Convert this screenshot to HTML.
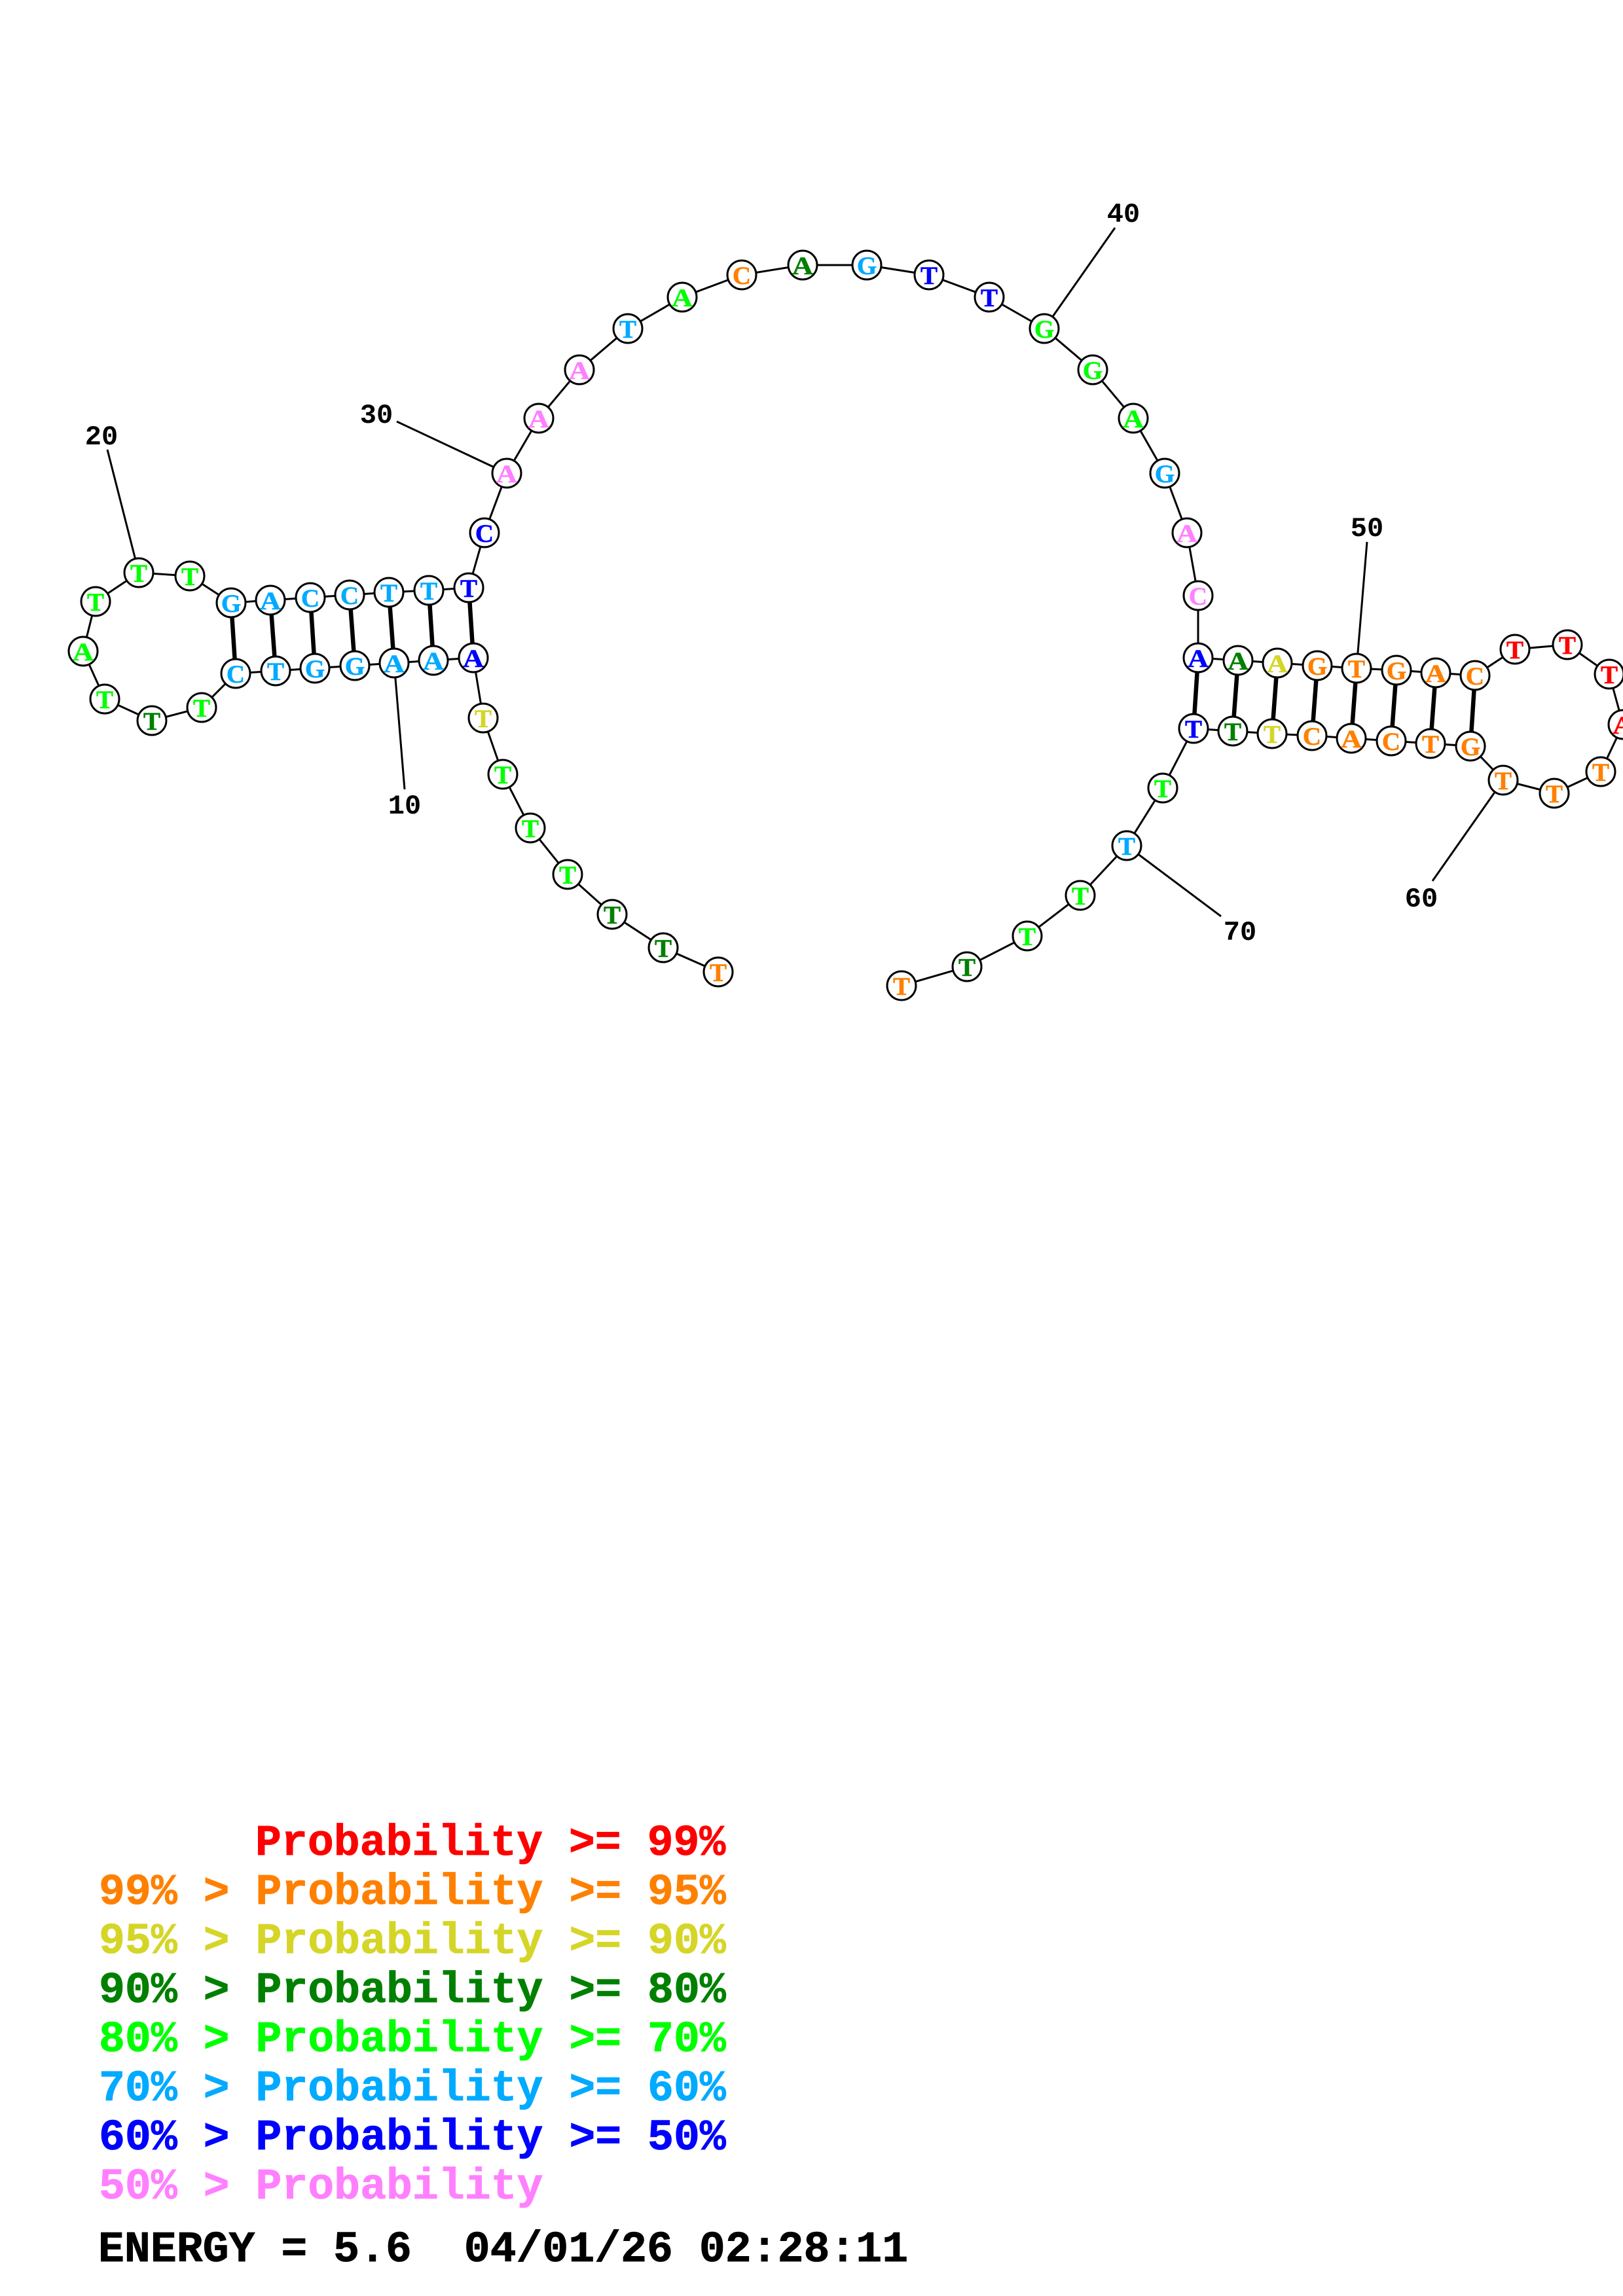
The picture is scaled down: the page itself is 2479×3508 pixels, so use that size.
<!DOCTYPE html>
<html><head><meta charset="utf-8"><style>
html,body{margin:0;padding:0;background:#fff}
svg{display:block}
text{font-family:"Liberation Mono",monospace;font-weight:bold;white-space:pre}
.n text{font-family:"Liberation Serif",serif;font-size:39px;text-anchor:middle;stroke-width:.6}
.n text.w{font-family:"Liberation Serif",serif}
.l{font-size:42px;text-anchor:middle;fill:#000}
.g{font-size:66.5px;stroke-width:.8}
.r{fill:#f00;stroke:#f00}.o{fill:#ff8000;stroke:#ff8000}.y{fill:#d5d528;stroke:#d5d528}.d{fill:#008000;stroke:#008000}.e{fill:#0f0;stroke:#0f0}.c{fill:#00aaff;stroke:#00aaff}.b{fill:#00f;stroke:#00f}.p{fill:#ff80ff;stroke:#ff80ff}
</style></head><body>
<svg xmlns="http://www.w3.org/2000/svg" width="2479" height="3508" viewBox="0 0 2479 3508">
<rect width="2479" height="3508" fill="#fff"/>
<polyline fill="none" stroke="#000" stroke-width="3" points="1097,1485 1013,1448 935,1397 867,1336 810,1265 768,1183 738,1097 723,1005 662,1009 602,1013 542,1017 481,1021 421,1025 360,1029 308,1081 232,1101 160,1068 127,995 146,919 212,875 290,880 353,921 413,917 474,913 534,909 594,905 655,902 716,898 740,814 774,723 823,639 885,565 959,502 1042,454 1133,420 1226,405 1324,405 1419,420 1511,454 1595,502 1669,565 1731,639 1779,723 1813,814 1830,910 1830,1005 1891,1009 1951,1013 2012,1017 2072,1021 2133,1024 2193,1028 2253,1032 2314,992 2394,985 2458,1030 2479,1107 2445,1179 2374,1212 2296,1192 2246,1140 2185,1136 2125,1132 2064,1128 2004,1124 1943,1121 1883,1117 1823,1113 1776,1204 1721,1292 1650,1368 1569,1430 1477,1477 1377,1506"/>
<g stroke="#000" stroke-width="3">
<line x1="602" y1="1013" x2="618" y2="1206"/>
<line x1="212" y1="875" x2="164" y2="687"/>
<line x1="774" y1="723" x2="606" y2="644"/>
<line x1="1595" y1="502" x2="1703" y2="348"/>
<line x1="2072" y1="1021" x2="2088" y2="828"/>
<line x1="2296" y1="1192" x2="2188" y2="1346"/>
<line x1="1721" y1="1292" x2="1865" y2="1400"/>
</g>
<g stroke="#000" stroke-width="6.5">
<line x1="723" y1="1005" x2="716" y2="898"/><line x1="662" y1="1009" x2="655" y2="902"/><line x1="602" y1="1013" x2="594" y2="905"/><line x1="542" y1="1017" x2="534" y2="909"/><line x1="481" y1="1021" x2="474" y2="913"/><line x1="421" y1="1025" x2="413" y2="917"/><line x1="360" y1="1029" x2="353" y2="921"/>
<line x1="1830" y1="1005" x2="1823" y2="1113"/><line x1="1891" y1="1009" x2="1883" y2="1117"/><line x1="1951" y1="1013" x2="1943" y2="1121"/><line x1="2012" y1="1017" x2="2004" y2="1124"/><line x1="2072" y1="1021" x2="2064" y2="1128"/><line x1="2133" y1="1024" x2="2125" y2="1132"/><line x1="2193" y1="1028" x2="2185" y2="1136"/><line x1="2253" y1="1032" x2="2246" y2="1140"/>
</g>
<g fill="#fff" stroke="#000" stroke-width="3">
<circle cx="1097" cy="1485" r="22"/><circle cx="1013" cy="1448" r="22"/><circle cx="935" cy="1397" r="22"/><circle cx="867" cy="1336" r="22"/><circle cx="810" cy="1265" r="22"/><circle cx="768" cy="1183" r="22"/><circle cx="738" cy="1097" r="22"/><circle cx="723" cy="1005" r="22"/><circle cx="662" cy="1009" r="22"/><circle cx="602" cy="1013" r="22"/><circle cx="542" cy="1017" r="22"/><circle cx="481" cy="1021" r="22"/><circle cx="421" cy="1025" r="22"/><circle cx="360" cy="1029" r="22"/><circle cx="308" cy="1081" r="22"/><circle cx="232" cy="1101" r="22"/><circle cx="160" cy="1068" r="22"/><circle cx="127" cy="995" r="22"/><circle cx="146" cy="919" r="22"/><circle cx="212" cy="875" r="22"/><circle cx="290" cy="880" r="22"/><circle cx="353" cy="921" r="22"/><circle cx="413" cy="917" r="22"/><circle cx="474" cy="913" r="22"/><circle cx="534" cy="909" r="22"/><circle cx="594" cy="905" r="22"/><circle cx="655" cy="902" r="22"/><circle cx="716" cy="898" r="22"/><circle cx="740" cy="814" r="22"/><circle cx="774" cy="723" r="22"/><circle cx="823" cy="639" r="22"/><circle cx="885" cy="565" r="22"/><circle cx="959" cy="502" r="22"/><circle cx="1042" cy="454" r="22"/><circle cx="1133" cy="420" r="22"/><circle cx="1226" cy="405" r="22"/><circle cx="1324" cy="405" r="22"/><circle cx="1419" cy="420" r="22"/><circle cx="1511" cy="454" r="22"/><circle cx="1595" cy="502" r="22"/><circle cx="1669" cy="565" r="22"/><circle cx="1731" cy="639" r="22"/><circle cx="1779" cy="723" r="22"/><circle cx="1813" cy="814" r="22"/><circle cx="1830" cy="910" r="22"/><circle cx="1830" cy="1005" r="22"/><circle cx="1891" cy="1009" r="22"/><circle cx="1951" cy="1013" r="22"/><circle cx="2012" cy="1017" r="22"/><circle cx="2072" cy="1021" r="22"/><circle cx="2133" cy="1024" r="22"/><circle cx="2193" cy="1028" r="22"/><circle cx="2253" cy="1032" r="22"/><circle cx="2314" cy="992" r="22"/><circle cx="2394" cy="985" r="22"/><circle cx="2458" cy="1030" r="22"/><circle cx="2479" cy="1107" r="22"/><circle cx="2445" cy="1179" r="22"/><circle cx="2374" cy="1212" r="22"/><circle cx="2296" cy="1192" r="22"/><circle cx="2246" cy="1140" r="22"/><circle cx="2185" cy="1136" r="22"/><circle cx="2125" cy="1132" r="22"/><circle cx="2064" cy="1128" r="22"/><circle cx="2004" cy="1124" r="22"/><circle cx="1943" cy="1121" r="22"/><circle cx="1883" cy="1117" r="22"/><circle cx="1823" cy="1113" r="22"/><circle cx="1776" cy="1204" r="22"/><circle cx="1721" cy="1292" r="22"/><circle cx="1650" cy="1368" r="22"/><circle cx="1569" cy="1430" r="22"/><circle cx="1477" cy="1477" r="22"/><circle cx="1377" cy="1506" r="22"/>
</g>
<g class="n">
<text x="1097" y="1499" class="o">T</text><text x="1013" y="1462" class="d">T</text><text x="935" y="1411" class="d">T</text><text x="867" y="1350" class="e">T</text><text x="810" y="1279" class="e">T</text><text x="768" y="1197" class="e">T</text><text x="738" y="1111" class="y">T</text><text x="723" y="1019" class="b" textLength="32" lengthAdjust="spacingAndGlyphs">A</text><text x="662" y="1023" class="c" textLength="32" lengthAdjust="spacingAndGlyphs">A</text><text x="602" y="1027" class="c" textLength="32" lengthAdjust="spacingAndGlyphs">A</text><text x="542" y="1031" class="c">G</text><text x="481" y="1035" class="c">G</text><text x="421" y="1039" class="c">T</text><text x="360" y="1043" class="c">C</text><text x="308" y="1095" class="e">T</text><text x="232" y="1115" class="d">T</text><text x="160" y="1082" class="e">T</text><text x="127" y="1009" class="e" textLength="32" lengthAdjust="spacingAndGlyphs">A</text><text x="146" y="933" class="e">T</text><text x="212" y="889" class="e">T</text><text x="290" y="894" class="e">T</text><text x="353" y="935" class="c">G</text><text x="413" y="931" class="c" textLength="32" lengthAdjust="spacingAndGlyphs">A</text><text x="474" y="927" class="c">C</text><text x="534" y="923" class="c">C</text><text x="594" y="919" class="c">T</text><text x="655" y="916" class="c">T</text><text x="716" y="912" class="b">T</text><text x="740" y="828" class="b">C</text><text x="774" y="737" class="p" textLength="32" lengthAdjust="spacingAndGlyphs">A</text><text x="823" y="653" class="p" textLength="32" lengthAdjust="spacingAndGlyphs">A</text><text x="885" y="579" class="p" textLength="32" lengthAdjust="spacingAndGlyphs">A</text><text x="959" y="516" class="c">T</text><text x="1042" y="468" class="e" textLength="32" lengthAdjust="spacingAndGlyphs">A</text><text x="1133" y="434" class="o">C</text><text x="1226" y="419" class="d" textLength="32" lengthAdjust="spacingAndGlyphs">A</text><text x="1324" y="419" class="c">G</text><text x="1419" y="434" class="b">T</text><text x="1511" y="468" class="b">T</text><text x="1595" y="516" class="e">G</text><text x="1669" y="579" class="e">G</text><text x="1731" y="653" class="e" textLength="32" lengthAdjust="spacingAndGlyphs">A</text><text x="1779" y="737" class="c">G</text><text x="1813" y="828" class="p" textLength="32" lengthAdjust="spacingAndGlyphs">A</text><text x="1830" y="924" class="p">C</text><text x="1830" y="1019" class="b" textLength="32" lengthAdjust="spacingAndGlyphs">A</text><text x="1891" y="1023" class="d" textLength="32" lengthAdjust="spacingAndGlyphs">A</text><text x="1951" y="1027" class="y" textLength="32" lengthAdjust="spacingAndGlyphs">A</text><text x="2012" y="1031" class="o">G</text><text x="2072" y="1035" class="o">T</text><text x="2133" y="1038" class="o">G</text><text x="2193" y="1042" class="o" textLength="32" lengthAdjust="spacingAndGlyphs">A</text><text x="2253" y="1046" class="o">C</text><text x="2314" y="1006" class="r">T</text><text x="2394" y="999" class="r">T</text><text x="2458" y="1044" class="r">T</text><text x="2479" y="1121" class="r" textLength="32" lengthAdjust="spacingAndGlyphs">A</text><text x="2445" y="1193" class="o">T</text><text x="2374" y="1226" class="o">T</text><text x="2296" y="1206" class="o">T</text><text x="2246" y="1154" class="o">G</text><text x="2185" y="1150" class="o">T</text><text x="2125" y="1146" class="o">C</text><text x="2064" y="1142" class="o" textLength="32" lengthAdjust="spacingAndGlyphs">A</text><text x="2004" y="1138" class="o">C</text><text x="1943" y="1135" class="y">T</text><text x="1883" y="1131" class="d">T</text><text x="1823" y="1127" class="b">T</text><text x="1776" y="1218" class="e">T</text><text x="1721" y="1306" class="c">T</text><text x="1650" y="1382" class="e">T</text><text x="1569" y="1444" class="e">T</text><text x="1477" y="1491" class="d">T</text><text x="1377" y="1520" class="o">T</text>
</g>
<text class="l" x="618" y="1243">10</text><text class="l" x="155" y="679">20</text><text class="l" x="575" y="646">30</text><text class="l" x="1716" y="339">40</text><text class="l" x="2088" y="819">50</text><text class="l" x="2171" y="1385">60</text><text class="l" x="1894" y="1436">70</text>
<text class="g r" x="390" y="2834">Probability &gt;= 99%</text>
<text class="g o" x="151" y="2909">99% &gt; Probability &gt;= 95%</text>
<text class="g y" x="151" y="2984">95% &gt; Probability &gt;= 90%</text>
<text class="g d" x="151" y="3059">90% &gt; Probability &gt;= 80%</text>
<text class="g e" x="151" y="3134">80% &gt; Probability &gt;= 70%</text>
<text class="g c" x="151" y="3209">70% &gt; Probability &gt;= 60%</text>
<text class="g b" x="151" y="3284">60% &gt; Probability &gt;= 50%</text>
<text class="g p" x="151" y="3359">50% &gt; Probability</text>
<text class="g" x="150" y="3455" fill="#000" stroke="#000">ENERGY = 5.6  04/01/26 02:28:11</text>
</svg>
</body></html>
